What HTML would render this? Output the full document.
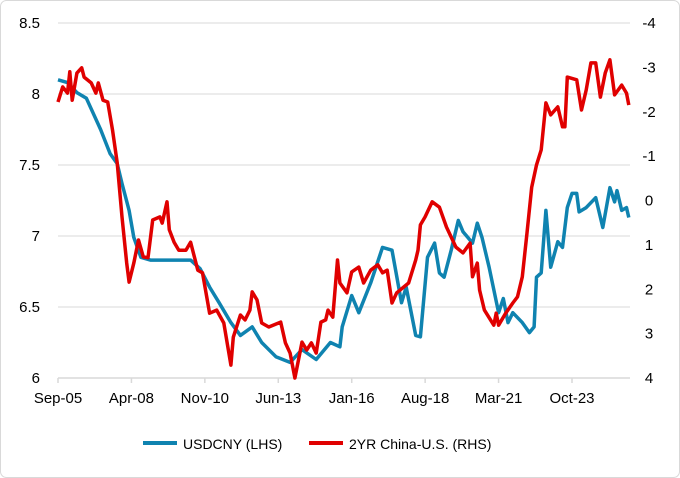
<!DOCTYPE html>
<html><head><meta charset="utf-8"><style>
body{margin:0;background:#fff}
#wrap{position:relative;width:680px;height:478px;overflow:hidden}
svg text{font-family:"Liberation Sans",Arial,sans-serif;fill:#000}
</style></head><body>
<div id="wrap">
<svg id="chart" width="680" height="478">
<rect x="0.5" y="0.5" width="679" height="477" rx="6" fill="#fff" stroke="#d9d9d9"/>
<g id="grid"></g>
<g id="axes"></g>
<g id="series"></g>
<g>
<line x1="143" y1="443" x2="177" y2="443" stroke="#0F83B0" stroke-width="4"/>
<text x="183" y="449" font-size="14">USDCNY (LHS)</text>
<line x1="309" y1="443" x2="343" y2="443" stroke="#E00000" stroke-width="4"/>
<text x="349" y="449" font-size="14">2YR China-U.S. (RHS)</text>
</g>
</svg>
</div>
<script>
const xLabels=["Sep-05","Apr-08","Nov-10","Jun-13","Jan-16","Aug-18","Mar-21","Oct-23"];
const xLabelMonths=[0,31,62,93,124,155,186,217];
const leftTicks=[6,6.5,7,7.5,8,8.5];
const rightTicks=[-4,-3,-2,-1,0,1,2,3,4];
const usdMonths=[0,4,8,12,18,22,25,27,30,32,35,39,46,56,60,64,68,73,77,82,86,92,98,103,109,115,119,120,124,127,132,137,141,145,147,151,153,156,159,161,163,166,169,171,173,175,177,179,182,186,188,190,192,196,199,201,202,204,206,208,211,213,215,217,219,220,223,227,230,233,235,236,238,240,241];
const usdValues=[8.10,8.08,8.01,7.97,7.75,7.58,7.51,7.37,7.18,6.99,6.85,6.83,6.83,6.83,6.77,6.64,6.53,6.39,6.30,6.36,6.25,6.15,6.11,6.20,6.13,6.25,6.22,6.36,6.58,6.46,6.67,6.92,6.90,6.53,6.64,6.30,6.29,6.85,6.95,6.74,6.71,6.90,7.11,7.03,6.99,6.95,7.09,6.99,6.78,6.46,6.56,6.39,6.46,6.39,6.32,6.36,6.71,6.74,7.18,6.78,6.96,6.92,7.20,7.30,7.30,7.17,7.20,7.27,7.06,7.34,7.24,7.32,7.18,7.20,7.13];
const sprMonths=[0,2,4,5,6,8,10,11,14,16,17,19,21,23,25,27,29,30,32,34,36,38,40,43,44,46,47,49,51,54,56,59,61,64,67,70,73,74,77,79,81,82,84,86,89,94,96,98,100,103,105,107,109,111,113,114,116,118,119,122,124,127,129,132,135,137,139,141,143,148,151,152,153,155,158,161,164,168,171,174,175,177,178,180,184,185,186,189,192,194,196,198,200,202,204,206,208,211,213,214,215,219,221,223,225,227,229,231,233,235,238,240,241];
const sprValues=[-2.22,-2.56,-2.42,-2.90,-2.26,-2.87,-2.99,-2.78,-2.65,-2.42,-2.65,-2.26,-2.22,-1.59,-0.85,0.37,1.41,1.84,1.41,0.89,1.27,1.29,0.44,0.37,0.51,0.03,0.66,0.94,1.12,1.12,0.94,1.57,1.63,2.54,2.47,2.76,3.71,3.08,2.58,2.69,2.47,2.06,2.24,2.76,2.85,2.74,3.21,3.44,4.0,3.19,3.37,3.21,3.44,2.74,2.69,2.47,2.63,1.34,1.86,2.08,1.61,1.50,1.86,1.57,1.45,1.63,1.57,2.31,2.08,1.86,1.34,1.12,0.55,0.37,0.03,0.15,0.60,1.05,1.18,0.96,1.72,1.41,2.02,2.47,2.81,2.54,2.81,2.54,2.31,2.17,1.72,0.73,-0.30,-0.80,-1.14,-2.20,-1.93,-2.11,-1.66,-1.66,-2.78,-2.72,-2.04,-2.49,-3.10,-3.10,-2.33,-2.87,-3.17,-2.38,-2.60,-2.42,-2.15];

const NS="http://www.w3.org/2000/svg";
const X0=58,X1=630,Y0=378,Y1=23;
const xS=m=>X0+m*(572-58)/217;
const yL=v=>Y0-(v-6)/(8.5-6)*(Y0-Y1);
const yR=v=>Y1+(v+4)/8*(Y0-Y1);
function mk(tag,attrs,parent){const e=document.createElementNS(NS,tag);for(const k in attrs)e.setAttribute(k,attrs[k]);parent.appendChild(e);return e;}
const grid=document.getElementById('grid'),axes=document.getElementById('axes'),ser=document.getElementById('series');
leftTicks.forEach(t=>{
  if(t>6){const g=mk('line',{x1:X0,x2:X1,y1:yL(t),y2:yL(t),stroke:'#d9d9d9','stroke-width':1},grid);
  
  }
  const tx=mk('text',{x:40,y:yL(t)+5,'font-size':15,'text-anchor':'end'},axes);tx.textContent=String(t);
  
  
});
rightTicks.forEach(t=>{
  const tx=mk('text',{x:649,y:yR(t)+5,'font-size':15,'text-anchor':'middle'},axes);tx.textContent=String(t);
  
  
});
const ax=mk('line',{x1:X0,x2:X1,y1:Y0,y2:Y0,stroke:'#d9d9d9','stroke-width':1.5},axes);


xLabels.forEach((l,i)=>{
  const x=xS(xLabelMonths[i]);
  const tk=mk('line',{x1:x,x2:x,y1:Y0,y2:Y0+5,stroke:'#d9d9d9','stroke-width':1.5},axes);
  
  
  const tx=mk('text',{x:x,y:403,'font-size':15,'text-anchor':'middle'},axes);tx.textContent=l;
  
  
});
const pUsd=usdMonths.map((m,i)=>xS(m).toFixed(1)+','+yL(usdValues[i]).toFixed(1)).join(' ');
const l1=mk('polyline',{points:pUsd,fill:'none',stroke:'#0F83B0','stroke-width':3.5,'stroke-linejoin':'round'},ser);


const pSpr=sprMonths.map((m,i)=>xS(m).toFixed(1)+','+yR(sprValues[i]).toFixed(1)).join(' ');
const l2=mk('polyline',{points:pSpr,fill:'none',stroke:'#E00000','stroke-width':3.5,'stroke-linejoin':'round'},ser);


</script>
</body></html>
